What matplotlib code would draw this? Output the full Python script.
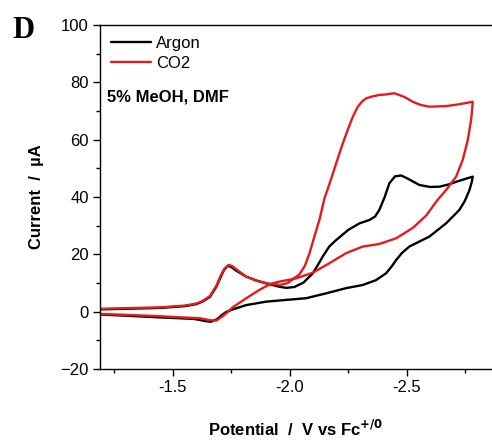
import matplotlib
matplotlib.use("Agg")
import matplotlib.pyplot as plt
from matplotlib.ticker import MultipleLocator, FuncFormatter

plt.rcParams['font.family'] = ['Liberation Sans', 'DejaVu Sans']

# Argon: forward (cathodic) sweep then return sweep
argon_v = [-1.19, -1.30, -1.445, -1.55, -1.60, -1.63, -1.66, -1.687, -1.705, -1.72,
           -1.736, -1.75, -1.77, -1.815, -1.86, -1.90, -1.95, -1.985, -2.02, -2.06,
           -2.099, -2.12, -2.141, -2.17, -2.199, -2.25, -2.298, -2.341, -2.365,
           -2.383, -2.405, -2.426, -2.45, -2.476, -2.50, -2.554, -2.60, -2.64, -2.68,
           -2.711, -2.75, -2.782,
           -2.778, -2.768, -2.748, -2.725, -2.668, -2.597, -2.55, -2.511, -2.48, -2.455,
           -2.435, -2.412, -2.369, -2.312, -2.241, -2.156, -2.071, -1.985, -1.90,
           -1.815, -1.757, -1.729, -1.71, -1.69, -1.665, -1.64, -1.61, -1.587,
           -1.445, -1.30, -1.19]
argon_i = [0.8, 1.0, 1.3, 1.9, 2.6, 3.6, 5.2, 8.7, 12.0, 14.6,
           16.0, 15.6, 14.4, 12.2, 10.8, 9.9, 8.8, 8.3, 8.6, 10.2,
           13.4, 16.2, 19.2, 22.8, 25.0, 28.5, 30.8, 32.0, 33.2,
           35.5, 39.8, 44.8, 47.2, 47.5, 46.6, 44.2, 43.5, 43.6, 44.4,
           45.3, 46.3, 47.1,
           45.3, 42.4, 38.6, 35.5, 30.8, 26.2, 24.3, 22.7, 20.5, 18.0,
           15.7, 13.4, 11.0, 9.3, 8.2, 6.4, 4.7, 4.1, 3.5,
           2.3, 0.8, -0.1, -1.2, -2.6, -3.5, -3.3, -2.8, -2.5,
           -2.0, -1.4, -1.0]

# CO2: forward (cathodic) sweep then return sweep
co2_v = [-1.19, -1.30, -1.445, -1.55, -1.60, -1.63, -1.66, -1.687, -1.705, -1.722,
         -1.74, -1.755, -1.775, -1.815, -1.86, -1.90, -1.957, -1.99, -2.013, -2.042,
         -2.065, -2.085, -2.105, -2.127, -2.149, -2.17, -2.199, -2.222, -2.248, -2.27,
         -2.291, -2.31, -2.327, -2.35, -2.383, -2.415, -2.447, -2.49, -2.526, -2.56,
         -2.597, -2.668, -2.72, -2.782,
         -2.779, -2.775, -2.761, -2.739, -2.711, -2.668, -2.632, -2.583, -2.526,
         -2.455, -2.383, -2.312, -2.241, -2.17, -2.099, -2.028, -1.957, -1.928,
         -1.90, -1.871, -1.815, -1.757, -1.729, -1.71, -1.687, -1.66, -1.63, -1.615,
         -1.445, -1.30, -1.19]
co2_i = [1.0, 1.2, 1.5, 2.1, 2.8, 3.8, 5.5, 9.0, 12.5, 15.0,
         16.3, 15.9, 14.6, 12.2, 10.8, 9.9, 9.3, 9.9, 11.3, 13.0,
         16.0, 20.4, 26.0, 32.0, 39.6, 44.5, 51.8, 57.5, 63.4, 68.0,
         71.5, 73.4, 74.4, 75.0, 75.6, 75.8, 76.2, 74.9, 73.2, 72.1,
         71.5, 71.7, 72.3, 73.2,
         70.0, 66.9, 59.9, 52.9, 47.1, 42.4, 39.0, 33.5, 29.2,
         25.6, 23.6, 22.7, 20.4, 16.9, 13.6, 11.6, 10.5, 9.9,
         8.9, 7.6, 4.7, 1.5, -0.6, -1.8, -3.1, -3.0, -2.5, -2.3,
         -1.6, -1.1, -0.8]

fig = plt.figure(figsize=(4.92, 4.42), dpi=100)
ax = fig.add_axes([100/492, 1 - 369/442, 391/492, 344/442])

ax.plot(argon_v, argon_i, color='black', lw=1.7, label='Argon',
        solid_joinstyle='round', solid_capstyle='round')
ax.plot(co2_v, co2_i, color='#e41a1c', lw=1.7, label='CO2',
        solid_joinstyle='round', solid_capstyle='round')

ax.set_xlim(-1.19, -2.86)
ax.set_ylim(-20, 100)
ax.xaxis.set_major_locator(MultipleLocator(0.5))
ax.xaxis.set_minor_locator(MultipleLocator(0.25))
ax.yaxis.set_major_locator(MultipleLocator(20))
ax.yaxis.set_minor_locator(MultipleLocator(10))
ax.xaxis.set_major_formatter(FuncFormatter(lambda v, p: "%.1f" % v))
ax.tick_params(which='major', direction='out', length=5, width=1, labelsize=12,
               colors='black', pad=3)
ax.tick_params(which='minor', direction='out', length=3, width=1)
ax.tick_params(top=False, right=False, which='both')
ax.spines['right'].set_visible(False)
for s in ['left', 'bottom', 'top']:
    ax.spines[s].set_linewidth(1.0)

ax.set_ylabel('Current  /  \u00b5A', fontsize=12, fontweight='bold', labelpad=12)
ax.set_xlabel('Potential  /  V vs Fc$^{\\mathbf{+/0}}$', fontsize=12, fontweight='bold',
              labelpad=17)

leg = ax.legend(loc='upper left', bbox_to_anchor=(0.0, 1.0), frameon=False,
                fontsize=12, handlelength=2.4, handletextpad=0.3, labelspacing=0.3,
                borderaxespad=0.25)
ax.text(0.018, 0.79, '5% MeOH, DMF', transform=ax.transAxes, fontsize=12,
        fontweight='bold', va='center', ha='left')

fig.text(12/492, 1 - 31/442, 'D', family='Liberation Serif', fontsize=22,
         fontweight='bold', va='center', ha='left')

fig.savefig('out.png', dpi=100)
